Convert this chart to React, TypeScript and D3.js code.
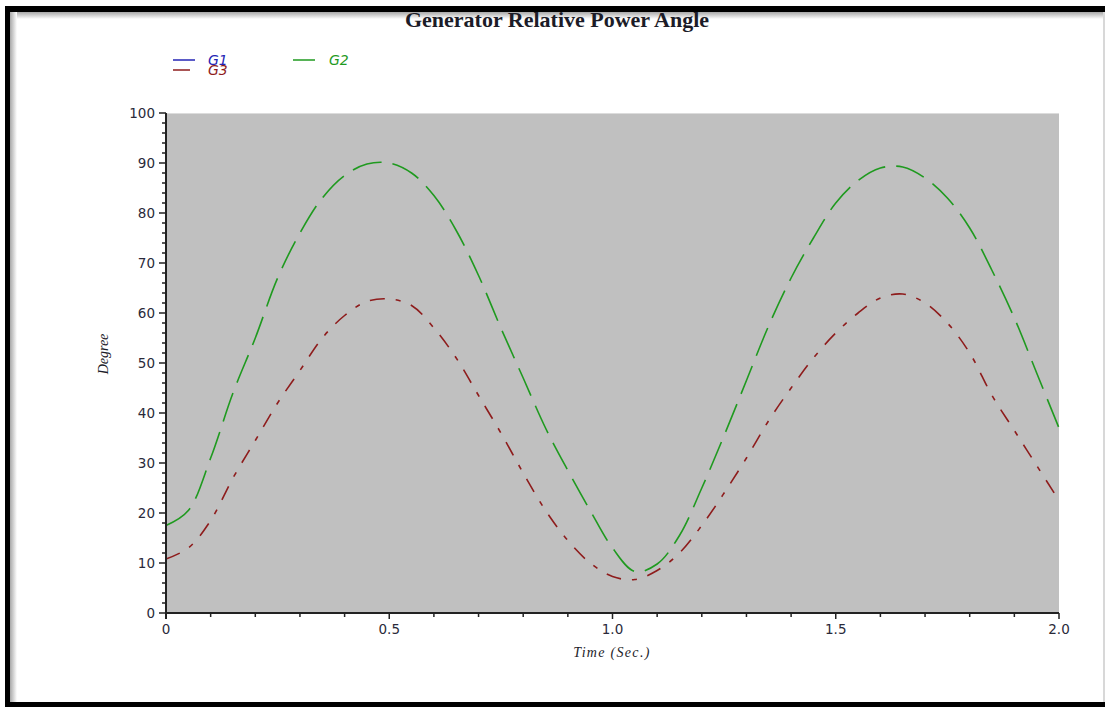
import React from "react";
import * as d3 from "d3";

// sample times (s)
const time = [0, 0.05, 0.1, 0.15, 0.2, 0.25, 0.3, 0.35, 0.4, 0.45, 0.5, 0.55, 0.6, 0.65, 0.7, 0.75, 0.8, 0.85, 0.9, 0.95, 1.0, 1.05, 1.1, 1.15, 1.2, 1.25, 1.3, 1.35, 1.4, 1.45, 1.5, 1.55, 1.6, 1.65, 1.7, 1.75, 1.8, 1.85, 1.9, 1.95, 2.0];

// relative angles (degree), G1 is the reference machine
const g1 = time.map(() => 0);
const g2 = [17.5, 20.5, 31, 44, 55, 67, 76, 83, 87.5, 89.8, 90, 88, 83.5, 76.5, 67.5, 57, 47, 37, 28.5, 20.5, 13, 8.3, 9.8, 15.5, 25, 35.5, 46.5, 57.5, 67, 75, 82, 86.5, 89, 89.2, 87, 83, 77, 68.5, 59, 48, 37];
const g3 = [10.8, 13, 18.5, 27, 34.5, 42, 48.5, 55, 59.5, 62.3, 62.8, 61.5, 57, 51, 43.5, 36, 28, 20.5, 14.5, 10, 7.3, 6.7, 8.5, 12, 17.5, 24, 31, 38.5, 45, 51, 56, 60, 63, 63.8, 62, 58, 52, 43.5, 36.5, 29.5, 22.5];

const xMajor = [0, 0.5, 1.0, 1.5, 2.0];
const xLabels = ["0", "0.5", "1.0", "1.5", "2.0"];
const yMajor = [0, 10, 20, 30, 40, 50, 60, 70, 80, 90, 100];

const series = [
  { name: "G1", values: g1, color: "#2424b4", dash: "none" },
  { name: "G2", values: g2, color: "#1f9a1f", dash: "30,11" },
  { name: "G3", values: g3, color: "#8e1c1c", dash: "15,11,5,11" },
];

const W = 1105, H = 707;
const plot = { left: 166, right: 1059, top: 113, bottom: 613 };

export default function App() {
  const x = d3.scaleLinear().domain([0, 2]).range([plot.left, plot.right]);
  const y = d3.scaleLinear().domain([0, 100]).range([plot.bottom, plot.top]);

  const line = (vals: number[]) =>
    d3.line<number>()
      .x((_, i) => x(time[i]))
      .y((d) => y(d))
      .curve(d3.curveCatmullRom)(vals) as string;

  const yMinor = d3.range(0, 101, 2).filter((v) => v % 10 !== 0);
  const xMinor = d3.range(0, 21, 1).map((v) => v / 10).filter((v) => !xMajor.includes(v));

  const tickFont = "'DejaVu Sans', Verdana, sans-serif";
  const serif = "'Liberation Serif', 'Times New Roman', serif";

  return (
    <svg width={W} height={H} style={{ position: "absolute", left: 0, top: 0 }}>
      <defs>
        <linearGradient id="shTop" x1="0" y1="0" x2="0" y2="1">
          <stop offset="0" stopColor="#a8a8a8" />
          <stop offset="1" stopColor="#ffffff" />
        </linearGradient>
        <linearGradient id="shLeft" x1="0" y1="0" x2="1" y2="0">
          <stop offset="0" stopColor="#a8a8a8" />
          <stop offset="1" stopColor="#ffffff" />
        </linearGradient>
      </defs>
      <rect x={0} y={0} width={W} height={H} fill="#fff" />
      {/* frame */}
      <rect x={5} y={6} width={W - 5} height={6} fill="#000" />
      <rect x={5} y={6} width={5} height={H - 6} fill="#000" />
      <rect x={5} y={702} width={W - 5} height={5} fill="#000" />
      <rect x={10} y={12} width={W - 12} height={7} fill="url(#shTop)" />
      <rect x={10} y={12} width={7} height={690} fill="url(#shLeft)" />
      <rect x={1103} y={12} width={2} height={690} fill="#d8d8d8" />

      {/* title */}
      <text x={557} y={27} textAnchor="middle" fontFamily={serif} fontWeight="bold" fontSize={22} fill="#1c1c28">
        Generator Relative Power Angle
      </text>

      {/* legend */}
      <line x1={173} x2={195} y1={60} y2={60} stroke={series[0].color} strokeWidth={1.5} />
      <text x={208} y={65} fontFamily={tickFont} fontStyle="italic" fontSize={14} fill={series[0].color}>G1</text>
      <line x1={173} x2={190} y1={70} y2={70} stroke={series[2].color} strokeWidth={1.5} />
      <text x={208} y={75} fontFamily={tickFont} fontStyle="italic" fontSize={14} fill={series[2].color}>G3</text>
      <line x1={293} x2={315} y1={60} y2={60} stroke={series[1].color} strokeWidth={1.5} />
      <text x={329} y={65} fontFamily={tickFont} fontStyle="italic" fontSize={14} fill={series[1].color}>G2</text>

      {/* plot area */}
      <rect x={plot.left} y={plot.top} width={plot.right - plot.left} height={plot.bottom - plot.top} fill="#c0c0c0" />
      <line x1={plot.left} x2={plot.right} y1={plot.top + 0.5} y2={plot.top + 0.5} stroke="#dcdcdc" />

      {series.map((s) => (
        <path key={s.name} d={line(s.values)} fill="none" stroke={s.color} strokeWidth={1.6}
          strokeDasharray={s.dash === "none" ? undefined : s.dash} />
      ))}

      {/* y axis */}
      <line x1={plot.left} x2={plot.left} y1={plot.top} y2={plot.bottom + 6} stroke="#222" strokeWidth={2} />
      {yMajor.map((v) => (
        <g key={"ym" + v}>
          <line x1={plot.left - 7} x2={plot.left} y1={y(v)} y2={y(v)} stroke="#222" strokeWidth={1.5} />
          <text x={155} y={y(v) + 4.5} textAnchor="end" fontFamily={tickFont} fontSize={13.5} fill="#2a2a3a">{v}</text>
        </g>
      ))}
      {yMinor.map((v) => (
        <line key={"yn" + v} x1={plot.left - 4} x2={plot.left} y1={y(v)} y2={y(v)} stroke="#222" strokeWidth={1.5} />
      ))}
      <text transform={`translate(108,354) rotate(-90)`} textAnchor="middle" fontFamily={serif} fontStyle="italic" fontSize={14} fill="#1c1c28">
        Degree
      </text>

      {/* x axis */}
      <line x1={plot.left} x2={plot.right} y1={plot.bottom} y2={plot.bottom} stroke="#222" strokeWidth={2} />
      {xMajor.map((v, i) => (
        <g key={"xm" + v}>
          <line x1={x(v)} x2={x(v)} y1={plot.bottom} y2={plot.bottom + 6} stroke="#222" strokeWidth={1.5} />
          <text x={x(v)} y={634} textAnchor="middle" fontFamily={tickFont} fontSize={13.5} fill="#2a2a3a">{xLabels[i]}</text>
        </g>
      ))}
      {xMinor.map((v) => (
        <line key={"xn" + v} x1={x(v)} x2={x(v)} y1={plot.bottom} y2={plot.bottom + 4} stroke="#222" strokeWidth={1.5} />
      ))}
      <text x={612} y={657} textAnchor="middle" fontFamily={serif} fontStyle="italic" fontSize={14} letterSpacing={1.3} fill="#1c1c28">
        Time (Sec.)
      </text>
    </svg>
  );
}
